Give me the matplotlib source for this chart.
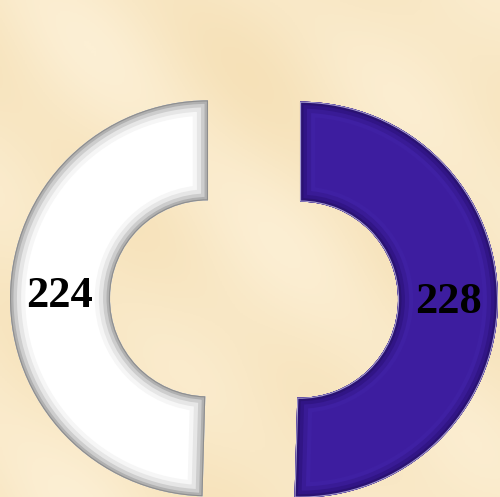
import matplotlib.pyplot as plt
import numpy as np
from matplotlib.patches import PathPatch
from matplotlib.colors import LinearSegmentedColormap

labels = ['A', 'B']
values = [224, 228]
colors = ['#ffffff', '#3d1d9f']
bevel_widths = [22, 16, 10, 5, 1.6]
bevels = [['#f6f6f6', '#e6e6e6', '#cdcdcd', '#b0b0b0', '#8e8e8e'],
          ['#3f20a3', '#391b96', '#311586', '#2a1273', '#a59cd0']]

fig = plt.figure(figsize=(5.0, 4.97), dpi=100)
fig.patch.set_facecolor('#f9e7c6')
ax = fig.add_axes([0, 0, 1, 1])
ax.set_xlim(0, 500)
ax.set_ylim(0, 497)
ax.set_aspect('equal')
ax.axis('off')

# soft parchment shading behind the chart
yy, xx = np.mgrid[0:1:200j, 0:1:200j]
shade = 0.5 + 0.25 * np.sin(xx * 9.0) * np.cos(yy * 7.0) + 0.2 * np.sin((xx + yy) * 13.0)
parch = LinearSegmentedColormap.from_list('parch', ['#f6e1b8', '#fcefd4'])
ax.imshow(shade, extent=(0, 500, 0, 497), cmap=parch, origin='lower', zorder=0, aspect='auto')

total = sum(values)
wedges, texts, autotexts = ax.pie(
    values, colors=colors, startangle=90, counterclock=True,
    center=(254, 198), radius=198, explode=[46, 46],
    wedgeprops=dict(width=100, linewidth=0),
    autopct=lambda p: '{:.0f}'.format(p * total / 100.0), pctdistance=0.75,
    textprops=dict(family='Liberation Serif', fontweight='bold', fontsize=32, color='black'))

# bevel: strokes clipped to each ring piece
for w, bc in zip(wedges, bevels):
    w.set_zorder(2)
    for lw, c in zip(bevel_widths, bc):
        p = PathPatch(w.get_path(), facecolor='none', edgecolor=c, linewidth=lw,
                      joinstyle='miter', transform=ax.transData, zorder=2.5)
        ax.add_patch(p)
        p.set_clip_path(w)
for t in autotexts:
    t.set_zorder(3)

ax.set_xlim(0, 500)
ax.set_ylim(0, 497)

fig.savefig('out.png', dpi=100, facecolor=fig.get_facecolor())
